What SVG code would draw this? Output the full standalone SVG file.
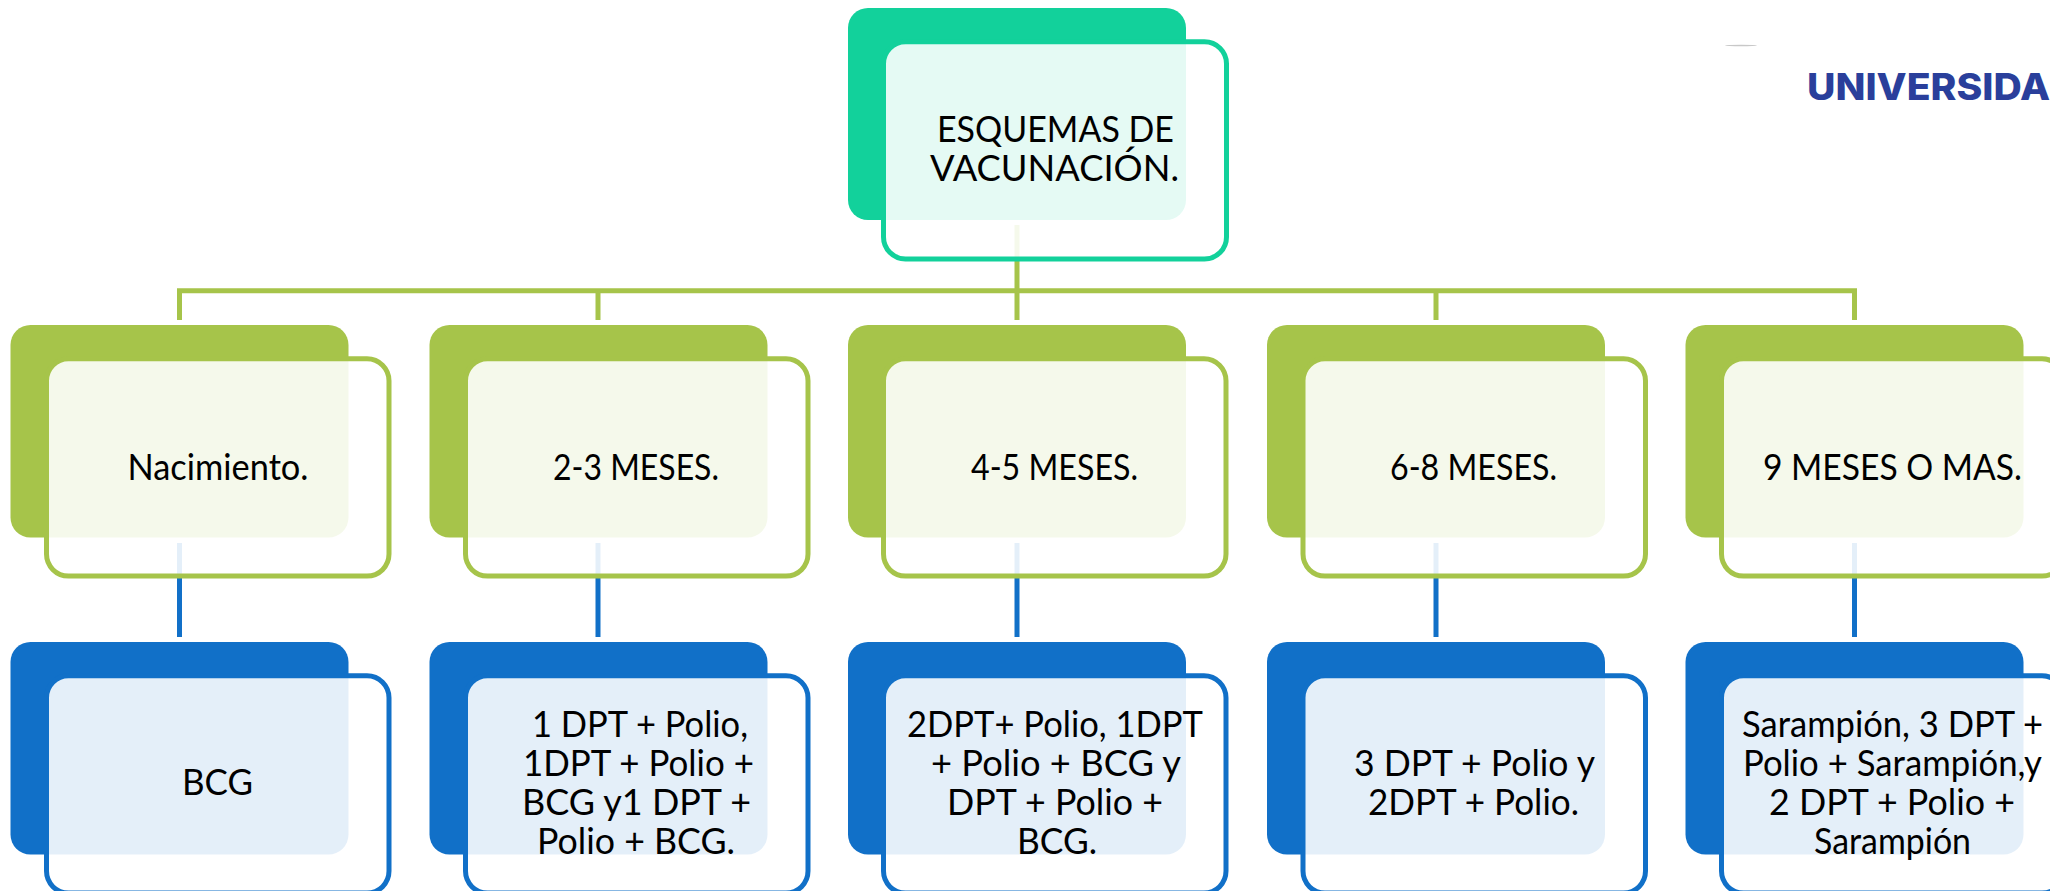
<svg xmlns="http://www.w3.org/2000/svg" width="2050" height="891" viewBox="0 0 2050 891">
<style>
text{font-family:"Lato","Open Sans",sans-serif;font-size:36px;fill:#000;text-anchor:start}
.o{stroke-width:5;fill:#fff;fill-opacity:.89}
.gs{fill:#a6c44a}.go{stroke:#a6c44a}.bs{fill:#1170c8}.bo{stroke:#1170c8}
.ts{fill:#12d19b}.to{stroke:#12d19b}
</style>
<rect width="2050" height="891" fill="#fff"/>
<g id="connectors" fill="none" stroke-width="5">
<path stroke="#a6c44a" d="M1017 225V320M179.500 320V290.700H1854.500V320M598 290.700V320M1436 290.700V320"/>
<path stroke="#1170c8" d="M179.500 543V637M598 543V637M1017 543V637M1436 543V637M1854.500 543V637"/>
</g>
<g id="root"><rect class="ts" x="848" y="8" width="338" height="212" rx="20"/><rect class="o to" x="883.500" y="41.700" width="343" height="217.300" rx="22"/><text x="937" y="142" textLength="237" lengthAdjust="spacingAndGlyphs">ESQUEMAS DE</text><text x="930" y="181" textLength="249" lengthAdjust="spacingAndGlyphs">VACUNACIÓN.</text></g>
<g id="n1"><rect class="gs" x="10.500" y="325" width="338" height="212.500" rx="20"/><rect class="o go" x="46.500" y="358.800" width="342.500" height="217.300" rx="22"/><text x="127.500" y="480" textLength="181" lengthAdjust="spacingAndGlyphs">Nacimiento.</text></g>
<g id="n2"><rect class="gs" x="429.500" y="325" width="338" height="212.500" rx="20"/><rect class="o go" x="465.500" y="358.800" width="342.500" height="217.300" rx="22"/><text x="553" y="480" textLength="166" lengthAdjust="spacingAndGlyphs">2-3 MESES.</text></g>
<g id="n3"><rect class="gs" x="848" y="325" width="338" height="212.500" rx="20"/><rect class="o go" x="883.500" y="358.800" width="342.500" height="217.300" rx="22"/><text x="971" y="480" textLength="167" lengthAdjust="spacingAndGlyphs">4-5 MESES.</text></g>
<g id="n4"><rect class="gs" x="1267" y="325" width="338" height="212.500" rx="20"/><rect class="o go" x="1303" y="358.800" width="342.500" height="217.300" rx="22"/><text x="1390" y="480" textLength="167" lengthAdjust="spacingAndGlyphs">6-8 MESES.</text></g>
<g id="n5"><rect class="gs" x="1685.500" y="325" width="338" height="212.500" rx="20"/><rect class="o go" x="1721.500" y="358.800" width="342.500" height="217.300" rx="22"/><text x="1763" y="480" textLength="259" lengthAdjust="spacingAndGlyphs">9 MESES O MAS.</text></g>
<g id="b1"><rect class="bs" x="10.500" y="642" width="338" height="212.500" rx="20"/><rect class="o bo" x="46.500" y="675.800" width="342.500" height="217.300" rx="22"/><text x="182" y="795" textLength="71" lengthAdjust="spacingAndGlyphs">BCG</text></g>
<g id="b2"><rect class="bs" x="429.500" y="642" width="338" height="212.500" rx="20"/><rect class="o bo" x="465.500" y="675.800" width="342.500" height="217.300" rx="22"/><text x="532" y="737" textLength="216" lengthAdjust="spacingAndGlyphs">1 DPT + Polio,</text><text x="523" y="776" textLength="231" lengthAdjust="spacingAndGlyphs">1DPT + Polio +</text><text x="522" y="815" textLength="229" lengthAdjust="spacingAndGlyphs">BCG y1 DPT +</text><text x="537" y="854" textLength="198" lengthAdjust="spacingAndGlyphs">Polio + BCG.</text></g>
<g id="b3"><rect class="bs" x="848" y="642" width="338" height="212.500" rx="20"/><rect class="o bo" x="883.500" y="675.800" width="342.500" height="217.300" rx="22"/><text x="907" y="737" textLength="296" lengthAdjust="spacingAndGlyphs">2DPT+ Polio, 1DPT</text><text x="931" y="776" textLength="250" lengthAdjust="spacingAndGlyphs">+ Polio + BCG y</text><text x="947" y="815" textLength="216" lengthAdjust="spacingAndGlyphs">DPT + Polio +</text><text x="1017" y="854" textLength="80" lengthAdjust="spacingAndGlyphs">BCG.</text></g>
<g id="b4"><rect class="bs" x="1267" y="642" width="338" height="212.500" rx="20"/><rect class="o bo" x="1303" y="675.800" width="342.500" height="217.300" rx="22"/><text x="1354" y="776" textLength="241" lengthAdjust="spacingAndGlyphs">3 DPT + Polio y</text><text x="1368" y="815" textLength="211" lengthAdjust="spacingAndGlyphs">2DPT + Polio.</text></g>
<g id="b5"><rect class="bs" x="1685.500" y="642" width="338" height="212.500" rx="20"/><rect class="o bo" x="1721.500" y="675.800" width="342.500" height="217.300" rx="22"/><text x="1742" y="737" textLength="301" lengthAdjust="spacingAndGlyphs">Sarampión, 3 DPT +</text><text x="1743" y="776" textLength="299" lengthAdjust="spacingAndGlyphs">Polio + Sarampión,y</text><text x="1769" y="815" textLength="246" lengthAdjust="spacingAndGlyphs">2 DPT + Polio +</text><text x="1814" y="854" textLength="157" lengthAdjust="spacingAndGlyphs">Sarampión</text></g>
<ellipse cx="1741" cy="45.500" rx="16" ry="0.800" fill="#c8c8c8"/>
<text x="1807" y="100" textLength="243" lengthAdjust="spacingAndGlyphs" style="font-family:Inter,sans-serif;font-weight:800;font-size:37px;fill:#2a3f9b">UNIVERSIDA</text>
</svg>
